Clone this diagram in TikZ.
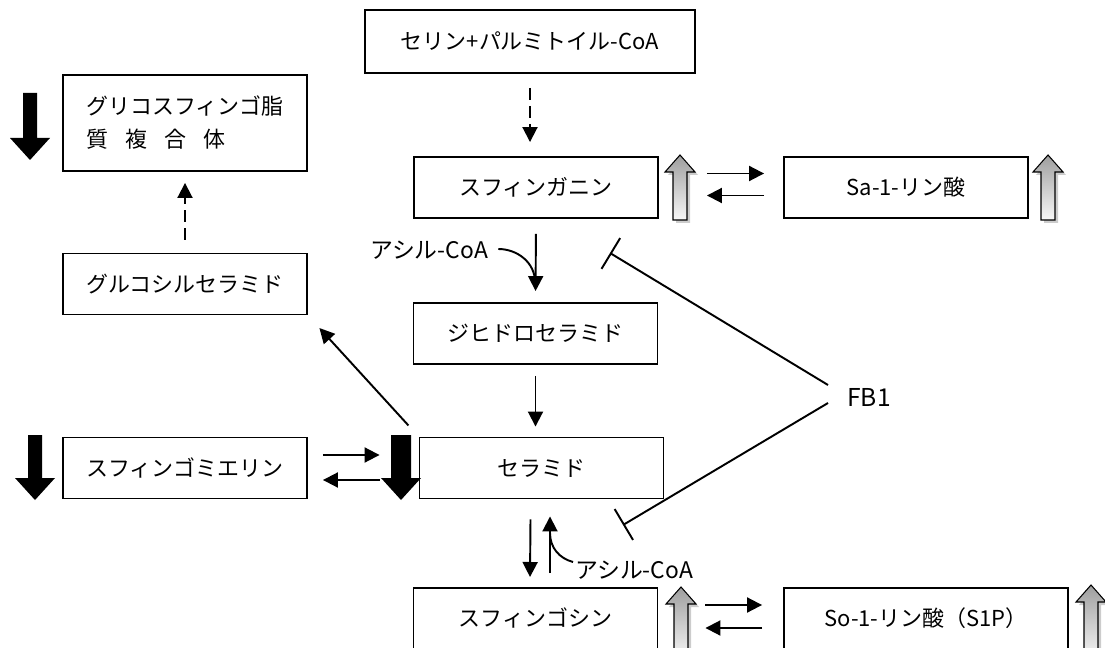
\documentclass[tikz,border=0pt]{standalone}
\usepackage{fontspec}
\setmainfont{Noto Sans CJK JP}
\usetikzlibrary{arrows.meta}

\tikzset{
  box/.style={draw, line width=1.1pt, inner sep=0pt, minimum width=4.88cm,
    minimum height=1.22cm, font=\fontsize{12.5}{15}\selectfont},
  arr/.style={line width=1.1pt, -{Triangle[length=0.3cm,width=0.3cm]}},
  dasharr/.style={arr, dash pattern=on 0.24cm off 0.12cm},
  inhib/.style={line width=1.1pt, -{Bar[width=0.72cm,line width=1.1pt]}},
  lbl/.style={inner sep=0pt, font=\fontsize{13}{15}\selectfont},
}

% big black arrow: x, top, bottom, half shaft
\newcommand{\blkdown}[4]{%
  \fill (#1-#4,#2) -- (#1+#4,#2) -- (#1+#4,#3-22) -- (#1+20,#3-22) -- (#1,#3)
    -- (#1-20,#3-22) -- (#1-#4,#3-22) -- cycle;}
% gray up arrow: x, top, bottom
\newcommand{\grayup}[3]{%
  \fill[black!20] (#1-4,#3+3) -- (#1-4,#2+20) -- (#1-12,#2+20) -- (#1+3,#2+3)
    -- (#1+18,#2+20) -- (#1+10,#2+20) -- (#1+10,#3+3) -- cycle;
  \draw[line width=0.6pt, top color=black!38, bottom color=black!3]
    (#1-7,#3) -- (#1-7,#2+17) -- (#1-15,#2+17) -- (#1,#2) -- (#1+15,#2+17)
    -- (#1+7,#2+17) -- (#1+7,#3) -- cycle;}

\begin{document}
\begin{tikzpicture}[x=0.02cm,y=-0.02cm]
  \useasboundingbox (0,0) rectangle (1105,648);
  \clip (0,0) rectangle (1105,648);

  % Boxes
  \node[box, minimum width=6.6cm, minimum height=1.26cm] (serine) at (530,41.5) {セリン+パルミトイル-CoA};
  \node[box, minimum height=1.92cm, align=left, font=\fontsize{12.5}{18.8}\selectfont]
    (gsl) at (185,123) {グリコスフィンゴ脂\\質\hspace{0.34cm}複\hspace{0.34cm}合\hspace{0.34cm}体};
  \node[box] (sa) at (536,187.5) {スフィンガニン};
  \node[box] (sa1p) at (906,187.5) {Sa-1-リン酸};
  \node[box] (glc) at (185,284) {グルコシルセラミド};
  \node[box] (dhc) at (535.5,333.5) {ジヒドロセラミド};
  \node[box] (sm) at (185,468) {スフィンゴミエリン};
  \node[box] (cer) at (541.5,468) {セラミド};
  \node[box, anchor=north] (so) at (535.5,587) {スフィンゴシン};
  \node[box, minimum width=5.68cm, anchor=north] (s1p) at (926,587) {So-1-リン酸（S1P）};

  % Labels
  \node[lbl] (acyl1) at (429,250) {アシル-CoA};
  \node[lbl, anchor=west] (acyl2) at (575,570) {アシル-CoA};
  \node[inner sep=0pt, font=\fontsize{14}{16}\selectfont, anchor=west] (fb1) at (847,397) {FB1};

  \coordinate (join1) at (535,282);
  \coordinate (join2) at (550,533);
  \coordinate (blk1) at (610,253);
  \coordinate (blk2) at (623,525);

  % Main pathway
  \draw[dasharr, shorten <=0.28cm, shorten >=0.28cm] (serine.south) -- (serine.south |- sa.north);
  \draw[arr, shorten <=0.3cm, shorten >=0.22cm] (sa.south) -- (dhc.north);
  \draw[line width=1.1pt] ([shift={(10,-1)}]acyl1.east) to[out=0,in=90] (join1);
  \draw[arr, shorten <=0.22cm, shorten >=0.2cm] (dhc.south) -- (dhc.south |- cer.north);
  \draw[arr, shorten <=0.3cm, shorten >=0.34cm] (cer.north west) -- (glc.south east);
  \draw[dasharr, shorten <=0.26cm, shorten >=0.22cm] (glc.north) -- (gsl.south);

  % Equilibria
  \draw[arr] ([shift={(48,-14)}]sa.east) -- ([shift={(-19,-14)}]sa1p.west);
  \draw[arr] ([shift={(-19,8)}]sa1p.west) -- ([shift={(48,8)}]sa.east);
  \draw[arr] ([shift={(15,-13)}]sm.east) -- ([shift={(-39,-13)}]cer.west);
  \draw[arr] ([shift={(-39,12)}]cer.west) -- ([shift={(15,12)}]sm.east);
  \draw[arr] ([shift={(47,18)}]so.north east) -- ([shift={(-21,18)}]s1p.north west);
  \draw[arr] ([shift={(-21,41)}]s1p.north west) -- ([shift={(47,41)}]so.north east);

  % Ceramide <-> sphingosine
  \draw[arr] ([shift={(-11,20)}]cer.south) -- ([shift={(-5.5,-10)}]so.north);
  \draw[arr] ([shift={(14.5,-14)}]so.north) -- ([shift={(8.5,17)}]cer.south);
  \draw[line width=1.1pt] ([shift={(-2,-8)}]acyl2.west) to[out=165,in=-90] (join2);

  % FB1 inhibition
  \draw[inhib] ([shift={(-19,-12)}]fb1.west) -- (blk1);
  \draw[inhib] ([shift={(-19,6)}]fb1.west) -- (blk2);

  % Level changes
  \blkdown{30}{93}{160}{7}
  \blkdown{35}{435}{500}{7}
  \blkdown{401}{435}{500}{10}
  \grayup{680}{155}{220}
  \grayup{1048}{155}{220}
  \grayup{681}{587}{660}
  \grayup{1091}{585}{660}
\end{tikzpicture}
\end{document}
